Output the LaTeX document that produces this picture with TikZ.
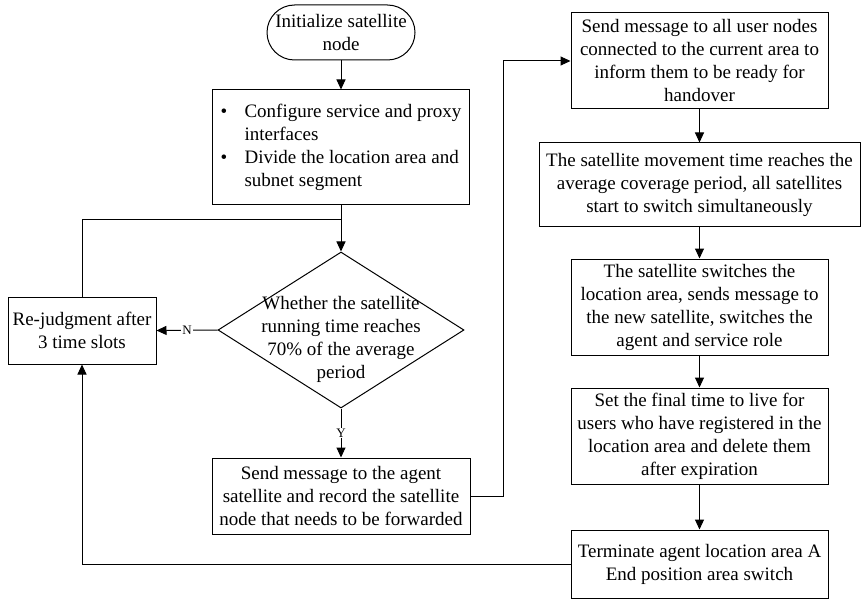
\documentclass[tikz,border=0pt]{standalone}
\usepackage{fontspec}
\setmainfont{Liberation Serif}
\usetikzlibrary{shapes.misc,shapes.geometric,arrows.meta}
\tikzset{
  txt/.style={font=\fontsize{19}{23}\selectfont},
  frame/.style={txt,draw,rectangle,inner sep=0pt},
  box/.style={frame,align=center},
  startstop/.style={txt,draw,rounded rectangle,align=center,inner sep=0pt},
  decision/.style={draw,diamond,inner sep=0pt},
  lbl/.style={fill=white,inner sep=1pt,font=\fontsize{13}{15}\selectfont}
}
\begin{document}
\begin{tikzpicture}[x=1pt,y=-1pt,line width=1pt,>={Triangle[length=10pt,width=9pt]}]
  \useasboundingbox (0,0) rectangle (862,599);
  %Left column
  \node[startstop,minimum width=148pt,minimum height=55pt] (init) at (341,32.5) {Initialize satellite\\node};
  \node[frame,minimum width=257pt,minimum height=114pt] (cfg) at (341,147)
    {\begin{tabular}{@{}p{24pt}@{}l@{}}
      \textbullet & Configure service and proxy\\
                  & interfaces\\
      \textbullet & Divide the location area and\\
                  & subnet segment
     \end{tabular}};
  \node[decision,minimum width=246pt,minimum height=156pt] (dec) at (341,330) {};
  \node[txt,align=center,inner sep=0pt] (dectext) at (341,339) {Whether the satellite\\running time reaches\\70\% of the average\\period};
  \node[box,minimum width=148pt,minimum height=67pt] (rej) at (82,330.5) {Re-judgment after\\3 time slots};
  \node[box,minimum width=258pt,minimum height=76pt] (send) at (341,496) {Send message to the agent\\satellite and record the satellite\\node that needs to be forwarded};
  %Right column
  \node[box,minimum width=257pt,minimum height=96pt] (r1) at (699.5,61) {Send message to all user nodes\\connected to the current area to\\inform them to be ready for\\handover};
  \node[box,minimum width=321pt,minimum height=83pt] (r2) at (699.5,184.5) {The satellite movement time reaches the\\average coverage period, all satellites\\start to switch simultaneously};
  \node[box,minimum width=257pt,minimum height=96pt] (r3) at (699.5,307) {The satellite switches the\\location area, sends message to\\the new satellite, switches the\\agent and service role};
  \node[box,minimum width=257pt,minimum height=96pt] (r4) at (699.5,436) {Set the final time to live for\\users who have registered in the\\location area and delete them\\after expiration};
  \node[box,minimum width=257pt,minimum height=68pt] (r5) at (699.5,564) {Terminate agent location area A\\End position area switch};
  %Arrows
  \coordinate (join) at (341,219);
  \draw[->] (init) -- (cfg);
  \draw[->] (cfg) -- (dec);
  \draw (rej.north) |- (join);
  \draw[->] (dec.west) -- node[lbl] {N} (rej.east);
  \draw[->] (dec.south) -- node[lbl] {Y} (send.north);
  \draw[->] (send.east) -- ++(33,0) |- (r1.west);
  \draw[->] (r1) -- (r2);
  \draw[->] (r2) -- (r3);
  \draw[->] (r3) -- (r4);
  \draw[->] (r4) -- (r5);
  \draw[->] (r5.west) -| (rej.south);
\end{tikzpicture}
\end{document}
